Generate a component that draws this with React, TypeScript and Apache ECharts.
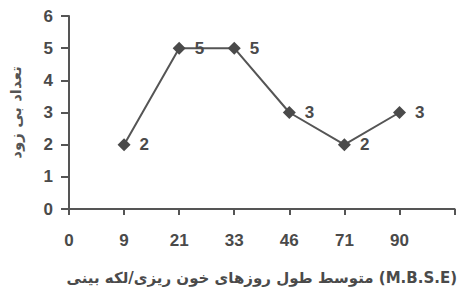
import React, { useEffect, useRef } from "react";
import * as echarts from "echarts";

const categories = ["0", "9", "21", "33", "46", "71", "90", ""];
const values: (number | null)[] = [null, 2, 5, 5, 3, 2, 3, null];
const xTitle = "متوسط طول روزهای خون ریزی/لکه بینی (M.B.S.E)";
const yTitle = "تعداد بی زود";

export default function App() {
  const ref = useRef<HTMLDivElement>(null);
  useEffect(() => {
    if (!ref.current) return;
    const chart = echarts.init(ref.current, null, { renderer: "svg" });
    const axisColor = "#555";
    const textColor = "#4a4a4a";
    const font = "Liberation Sans";
    chart.setOption({
      animation: false,
      backgroundColor: "#fff",
      grid: { left: 67, right: 1, top: 16, bottom: 80 },
      xAxis: {
        type: "category",
        data: categories,
        boundaryGap: false,
        axisLine: { lineStyle: { color: axisColor, width: 2 } },
        axisTick: { lineStyle: { color: axisColor, width: 2 }, length: 6, alignWithLabel: true },
        axisLabel: { color: textColor, fontSize: 17, fontWeight: "bold", fontFamily: font, margin: 23 },
        name: xTitle,
        nameLocation: "middle",
        nameGap: 61,
        nameTextStyle: { color: textColor, fontSize: 15, fontWeight: "bold", fontFamily: "DejaVu Sans" },
        splitLine: { show: false },
      },
      yAxis: {
        type: "value",
        min: 0,
        max: 6,
        interval: 1,
        axisLine: { show: true, lineStyle: { color: axisColor, width: 2 } },
        axisTick: { show: true, length: 8, lineStyle: { color: axisColor, width: 2 } },
        axisLabel: { color: textColor, fontSize: 17, fontWeight: "bold", fontFamily: font, margin: 16 },
        splitLine: { show: false },
        name: yTitle,
        nameLocation: "middle",
        nameGap: 46,
        nameRotate: 90,
        nameTextStyle: { color: "#555", fontSize: 15, fontWeight: "bold", fontFamily: "DejaVu Sans" },
      },
      series: [
        {
          type: "line",
          data: values,
          connectNulls: false,
          symbol: "diamond",
          symbolSize: 13,
          itemStyle: { color: textColor },
          lineStyle: { color: axisColor, width: 2 },
          label: {
            show: true,
            position: "right",
            distance: 9,
            color: textColor,
            fontSize: 17,
            fontWeight: "bold",
            fontFamily: font,
          },
        },
      ],
    });
    return () => chart.dispose();
  }, []);
  return <div ref={ref} style={{ width: 459, height: 290, position: "absolute", left: 0, top: 0 }} />;
}
